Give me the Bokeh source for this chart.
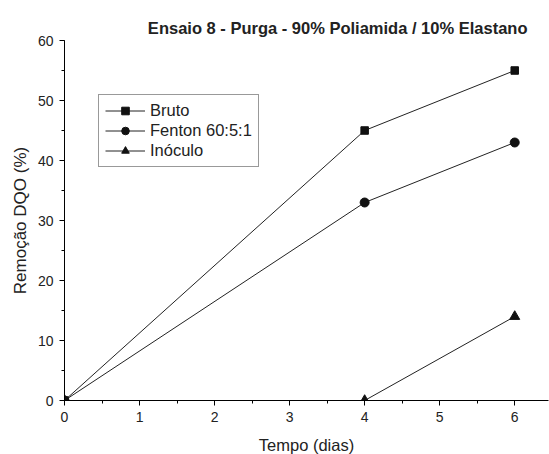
from bokeh.plotting import figure
from bokeh.models import Legend, LegendItem, SingleIntervalTicker, Range1d
from bokeh.embed import file_html
from bokeh.resources import INLINE

dias = [0, 4, 6]
bruto = [0, 45, 55]
fenton = [0, 33, 43]
inoculo = [0, 0, 14]
labels = ["Bruto", "Fenton 60:5:1", "Inóculo"]

FONT = "Liberation Sans"

p = figure(frame_width=484, frame_height=360, output_backend="svg", toolbar_location=None,
           x_range=Range1d(0, 6.45), y_range=Range1d(0, 60),
           min_border_left=64, min_border_right=1, min_border_top=40, min_border_bottom=54)
p.title.text = "Ensaio 8 - Purga - 90% Poliamida / 10% Elastano"
p.title.align = "right"
p.title.text_font = FONT
p.title.text_font_size = "16.5px"
p.title.text_font_style = "bold"
p.title.text_color = "#222222"
p.title.offset = 21
p.title.standoff = 8
p.xgrid.visible = False
p.ygrid.visible = False
p.outline_line_color = None

lc = "#222222"
r1l = p.line(dias, bruto, line_color=lc, line_width=1)
r1m = p.scatter(dias, bruto, marker="square", size=7.5, color="#111111")
r2l = p.line(dias, fenton, line_color=lc, line_width=1)
r2m = p.scatter(dias, fenton, marker="circle", size=9, color="#111111")
r3l = p.line(dias, inoculo, line_color=lc, line_width=1)
r3m = p.scatter(dias, inoculo, marker="triangle", size=10, color="#111111")

p.xaxis.ticker = SingleIntervalTicker(interval=1, num_minor_ticks=2)
p.yaxis.ticker = SingleIntervalTicker(interval=10, num_minor_ticks=2)
for ax in (p.xaxis[0], p.yaxis[0]):
    ax.axis_line_color = "black"
    ax.major_tick_line_color = "black"
    ax.minor_tick_line_color = "black"
    ax.major_tick_out = 5
    ax.major_tick_in = 0
    ax.minor_tick_out = 3
    ax.minor_tick_in = 0
    ax.major_label_standoff = 6
    ax.major_label_text_font = FONT
    ax.major_label_text_font_size = "14px"
    ax.major_label_text_color = "#222222"
    ax.axis_label_text_font = FONT
    ax.axis_label_text_font_style = "normal"
    ax.axis_label_text_color = "#222222"
p.xaxis.axis_label = "Tempo (dias)"
p.yaxis.axis_label = "Remoção DQO (%)"
p.xaxis.axis_label_text_font_size = "16.5px"
p.yaxis.axis_label_text_font_size = "17px"
p.xaxis.axis_label_standoff = 11
p.yaxis.axis_label_standoff = 5

legend = Legend(items=[
    LegendItem(label=labels[0], renderers=[r1l, r1m]),
    LegendItem(label=labels[1], renderers=[r2l, r2m]),
    LegendItem(label=labels[2], renderers=[r3l, r3m]),
], location=(34, 233))
legend.label_text_font = FONT
legend.label_text_font_size = "16.5px"
legend.label_text_color = "#222222"
legend.glyph_width = 40
legend.glyph_height = 19
legend.label_height = 19
legend.spacing = 1
legend.padding = 6
legend.margin = 0
legend.label_standoff = 5
legend.border_line_color = "#333333"
legend.border_line_width = 1
legend.background_fill_alpha = 1
p.add_layout(legend, "center")

open("out.html", "w").write(file_html(p, INLINE))
